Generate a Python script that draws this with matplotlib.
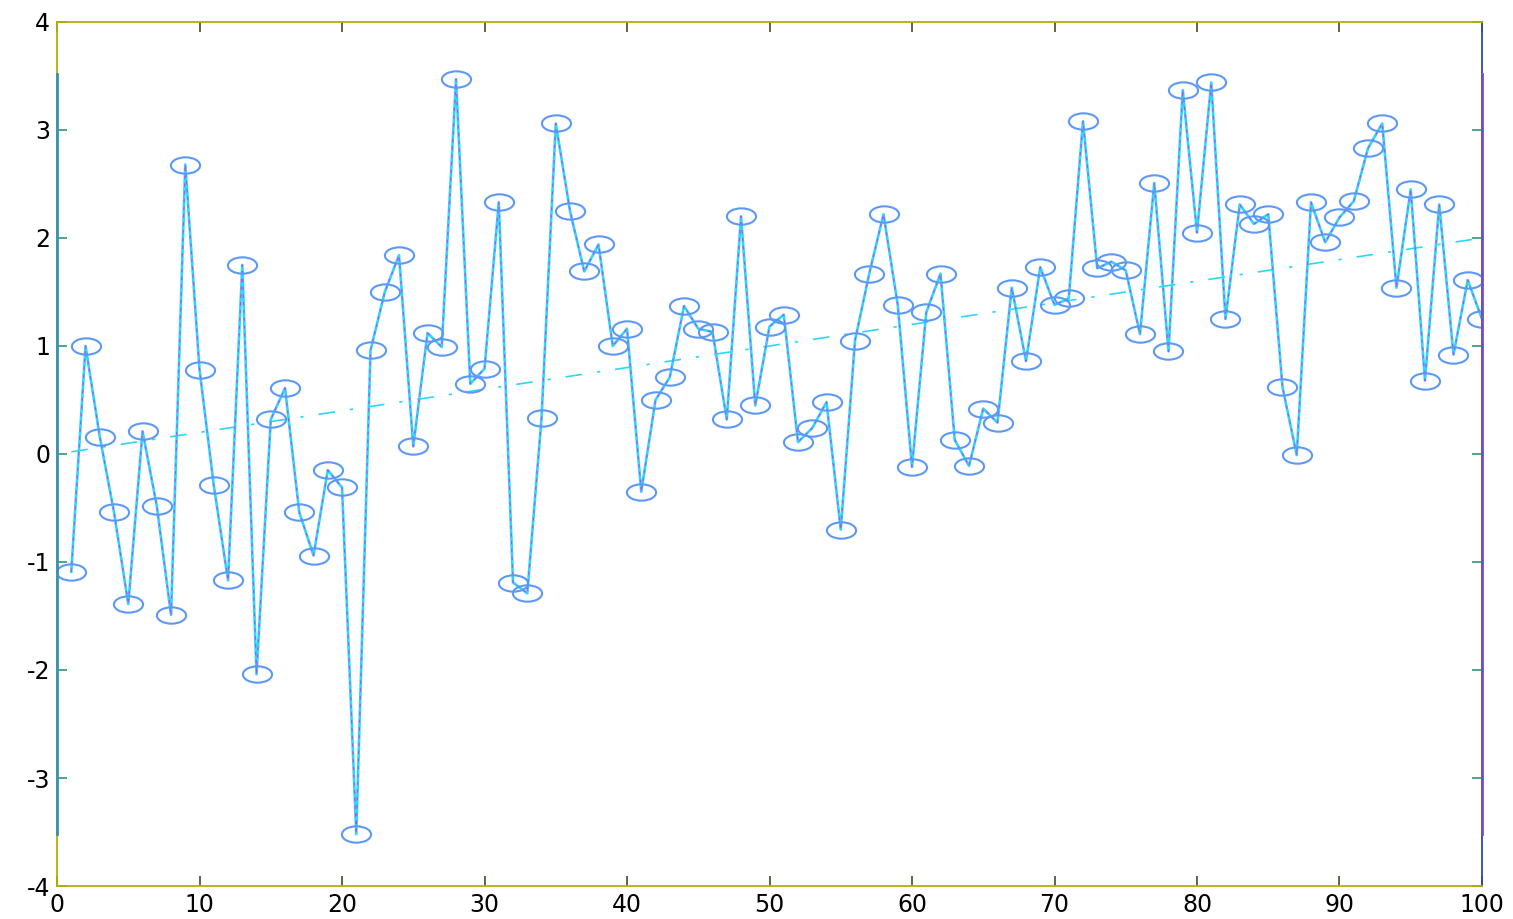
#!/usr/bin/env python3
import matplotlib
matplotlib.use("Agg")
import matplotlib.pyplot as plt
import numpy as np
from matplotlib.path import Path

xs = list(range(1, 101))
ys = [-1.09, 1.00, 0.16, -0.54, -1.39, 0.21, -0.48, -1.49, 2.68, 0.78,
      -0.29, -1.17, 1.75, -2.04, 0.32, 0.61, -0.54, -0.94, -0.15, -0.31,
      -3.52, 0.96, 1.50, 1.84, 0.07, 1.12, 0.99, 3.47, 0.65, 0.79,
      2.33, -1.19, -1.29, 0.33, 3.06, 2.25, 1.69, 1.94, 1.00, 1.16,
      -0.35, 0.50, 0.71, 1.37, 1.16, 1.13, 0.32, 2.20, 0.45, 1.18,
      1.29, 0.11, 0.24, 0.48, -0.70, 1.05, 1.67, 2.22, 1.38, -0.12,
      1.31, 1.67, 0.13, -0.11, 0.42, 0.29, 1.54, 0.86, 1.73, 1.38,
      1.44, 3.08, 1.72, 1.78, 1.70, 1.11, 2.51, 0.95, 3.37, 2.05,
      3.44, 1.25, 2.31, 2.13, 2.22, 0.62, -0.01, 2.33, 1.96, 2.19,
      2.34, 2.83, 3.06, 1.54, 2.45, 0.68, 2.31, 0.92, 1.61, 1.25]

# fitted trend line end points
trend_x = [1, 100]
trend_y = [0.02, 2.00]

xticks = [0, 10, 20, 30, 40, 50, 60, 70, 80, 90, 100]
yticks = [-4, -3, -2, -1, 0, 1, 2, 3, 4]

plt.rcParams["font.family"] = ["DejaVu Sans"]
plt.rcParams["axes.unicode_minus"] = False

fig = plt.figure(figsize=(15.13, 9.19), dpi=100)
ax = fig.add_axes([0.0377, 0.0359, 0.9418, 0.9402])

# flattened circle marker (the original picture is stretched sideways)
circ = Path.unit_circle()
ell = Path(circ.vertices * np.array([1.0, 0.56]), circ.codes)

ax.plot(xs, ys, color="#2ad8f8", lw=1.9, zorder=2)
ax.plot(xs, ys, color="#d23cf0", lw=0.8, ls=(0, (3, 4)), zorder=3)
ax.plot(xs, ys, ls="none", marker=ell, markersize=21, markerfacecolor="none",
        markeredgecolor="#5c98f6", markeredgewidth=1.5, zorder=4)
ax.plot(trend_x, trend_y, color="#2ad8f8", lw=1.2, ls=(0, (10, 9, 2, 9)), zorder=1)

ax.set_xlim(0, 100)
ax.set_ylim(-4, 4)
ax.set_xticks(xticks)
ax.set_yticks(yticks)
ax.tick_params(direction="in", length=7, width=1.2, top=True, right=True,
               labelsize=17, pad=5)
ax.tick_params(axis="y", colors="#2a9a70", labelcolor="black")
ax.tick_params(axis="x", colors="#4a4a20", labelcolor="black")

for side in ["top", "bottom", "left"]:
    ax.spines[side].set_color("#b5b000")
    ax.spines[side].set_linewidth(1.3)
ax.spines["right"].set_color("#3048a8")
ax.spines["right"].set_linewidth(1.3)

# colored overlay seen along both vertical frame edges
ax.axvline(0, ymin=0.06, ymax=0.94, color="#3a90b0", lw=2.0, zorder=5, clip_on=False)
ax.axvline(100, ymin=0.06, ymax=0.94, color="#7050c0", lw=2.0, zorder=5, clip_on=False)

fig.savefig("out.png", dpi=100)
